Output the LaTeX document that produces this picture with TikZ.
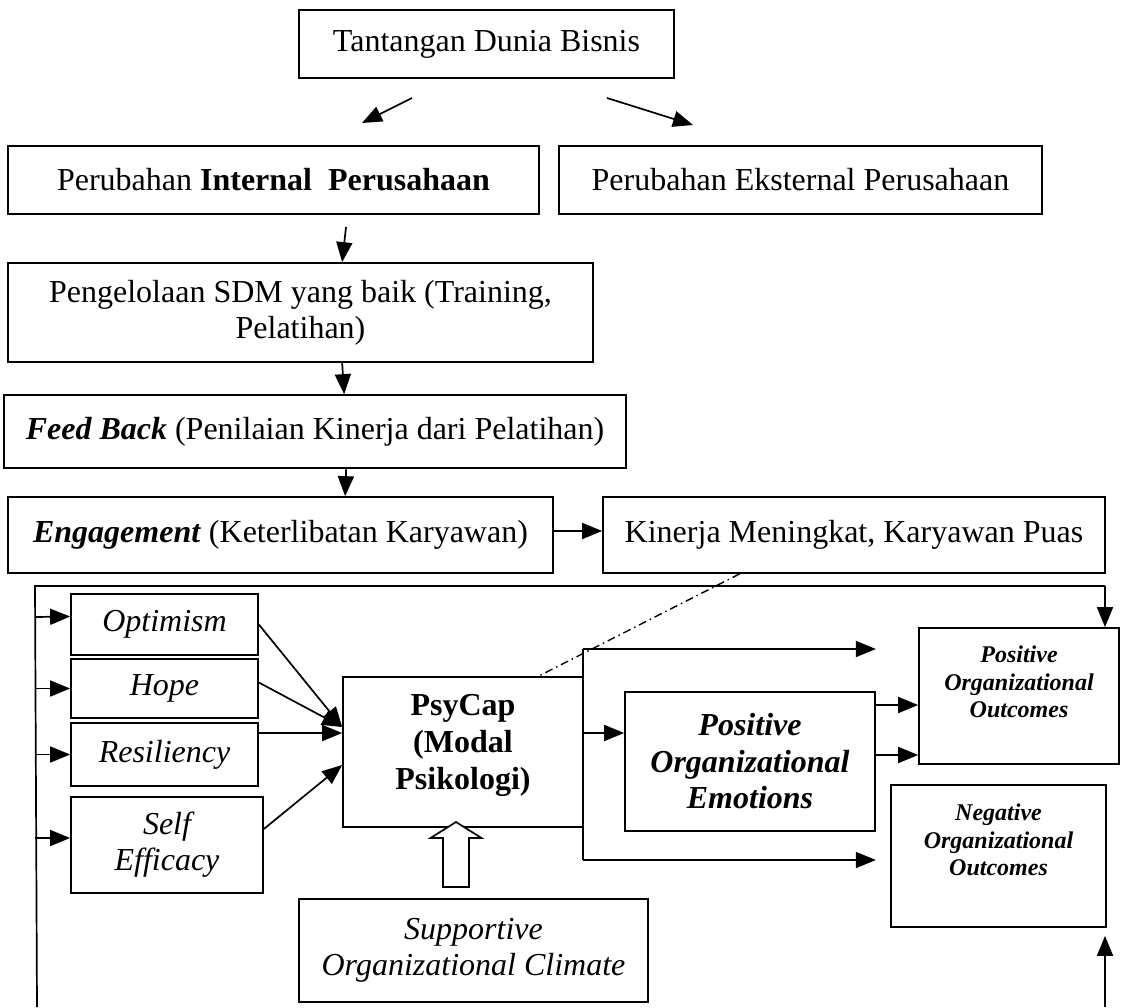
\documentclass[tikz,border=0pt]{standalone}
\usepackage{fontspec}
\setmainfont{Liberation Serif}
\usetikzlibrary{arrows.meta,calc}
\tikzset{
  box/.style={draw, line width=1.7pt, inner sep=0pt, align=center},
  ln/.style={line width=1.7pt},
  arr/.style={line width=1.7pt, -{Triangle[length=20pt,width=16pt]}},
  big/.style={font=\fontsize{32pt}{36pt}\selectfont},
  bigit/.style={font=\fontsize{32pt}{36pt}\selectfont\itshape},
  bigbf/.style={font=\fontsize{32pt}{37pt}\selectfont\bfseries},
  bigbi/.style={font=\fontsize{32pt}{36.5pt}\selectfont\bfseries\itshape},
  smbi/.style={font=\fontsize{24pt}{27.5pt}\selectfont\bfseries\itshape, align=center, inner sep=0pt},
  dashdot/.style={line width=1.4pt, dash pattern=on 8pt off 4pt on 1.5pt off 4pt}
}
\begin{document}
\begin{tikzpicture}[x=1pt,y=-1pt]
\useasboundingbox (0,0) rectangle (1126,1007);

% top part
\node[box,big,minimum width=375pt,minimum height=68pt] (tant) at (486.5,44) {Tantangan Dunia Bisnis};
\node[box,big,minimum width=531pt,minimum height=68pt] (int) at (273.5,180) {Perubahan \textbf{Internal\ \ Perusahaan}};
\node[box,big,minimum width=483pt,minimum height=68pt] (eks) at (800.5,180) {Perubahan Eksternal Perusahaan};
\node[box,big,minimum width=585pt,minimum height=99pt] (sdm) at (300.5,312.5) {Pengelolaan SDM yang baik (Training,\\Pelatihan)};
\node[box,big,minimum width=622pt,minimum height=73pt] (fb) at (315,431.5) {\textbf{\textit{Feed Back}} (Penilaian Kinerja dari Pelatihan)};
\node[box,big,minimum width=545pt,minimum height=76pt] (eng) at (280.5,535) {\textbf{\textit{Engagement}} (Keterlibatan Karyawan)};
\node[box,big,minimum width=502pt,minimum height=76pt] (kin) at (854,535) {Kinerja Meningkat, Karyawan Puas};

\coordinate (a1) at (412,98);
\coordinate (a2) at (362,123);
\coordinate (b1) at (607,98);
\coordinate (b2) at (693,125);
\draw[arr] (a1) -- (a2);
\draw[arr] (b1) -- (b2);
\coordinate (s1) at (346,227);
\draw[arr] (s1) -- ($(sdm.north west)+(335,0)$);
\draw[arr] ($(sdm.south west)+(335,0)$) -- ($(fb.north west)+(341,0)$);
\draw[arr] ($(fb.south west)+(343,0)$) -- ($(eng.north west)+(338,0)$);
\draw[arr] ([yshift=4pt]eng.east) -- ([yshift=4pt]kin.west);

% lower part boxes
\node[box,bigit,minimum width=187pt,minimum height=61pt] (opt) at (164.5,624.5) {Optimism};
\node[box,bigit,minimum width=187pt,minimum height=59pt] (hope) at (164.5,688.5) {Hope};
\node[box,bigit,minimum width=187pt,minimum height=63pt] (res) at (164.5,754.5) {Resiliency};
\node[box,bigit,minimum width=192pt,minimum height=96pt] (se) at (167,845) {Self\\Efficacy};
\node[box,minimum width=240pt,minimum height=150pt] (psy) at (463,752) {};
\node[bigbf,align=center,inner sep=0pt] (psyT) at (463,745) {PsyCap\\(Modal\\Psikologi)};
\node[box,bigbi,minimum width=250pt,minimum height=139pt] (emo) at (750,761.5) {Positive\\Organizational\\Emotions};
\node[box,minimum width=200pt,minimum height=136pt] (posout) at (1019,696) {};
\node[smbi] (posoutT) at (1019,682) {Positive\\Organizational\\Outcomes};
\node[box,minimum width=215pt,minimum height=142pt] (neg) at (998.5,856) {};
\node[smbi] (negT) at (998.5,840) {Negative\\Organizational\\Outcomes};
\node[box,bigit,minimum width=349pt,minimum height=103pt] (sup) at (473.5,950.5) {Supportive\\Organizational Climate};

% feedback frame
\coordinate (tl) at (35,586);
\coordinate (tr) at (1105,586);
\coordinate (bl) at (37,1007);
\coordinate (br) at (1105,1007);
\draw[ln] (bl) -- (tl) -- (tr);
\draw[arr] (tr) -- (tr |- posout.north);
\draw[arr] (br) -- ($(br |- neg.south)+(0,8)$);

\draw[arr] (tl |- 0,617) -- ([yshift=8pt]opt.west);
\draw[arr] (tl |- hope.west) -- (hope.west);
\draw[arr] (tl |- res.west) -- (res.west);
\draw[arr] (tl |- 0,838) -- ([yshift=7pt]se.west);

% into PsyCap
\coordinate (p1) at ([yshift=25pt]psy.west);
\coordinate (p2) at ([yshift=19pt]psy.west);
\coordinate (p3) at ([yshift=-13pt]psy.west);
\draw[arr] (opt.east) -- (p1);
\draw[arr] ([yshift=6pt]hope.east) -- (p1);
\draw[arr] (p2 -| res.east) -- (p2);
\draw[arr] ([yshift=16pt]se.east) -- (p3);

% out of PsyCap
\coordinate (bt) at (583,649);
\coordinate (bm) at (583,733);
\coordinate (bb) at (583,860);
\draw[ln] (bt) -- (bb);
\draw[arr] (bt) -- (bt -| emo.east);
\draw[arr] (bm) -- (bm -| emo.west);
\draw[arr] (bb) -- (bb -| emo.east);
\coordinate (e1) at (875,705);
\coordinate (e2) at (875,755);
\draw[arr] (e1) -- (e1 -| posout.west);
\draw[arr] (e2) -- (e2 -| posout.west);

% dash-dot link
\draw[dashdot] ($(kin.south west)!0.273!(kin.south east)$) -- ($(psy.north west)!0.8125!(psy.north east)$);

% hollow arrow from climate to PsyCap
\coordinate (ht) at (456,822);
\draw[ln, fill=white, line join=miter] (ht) -- ++(25.5,16) -- ++(-12.5,0) -- ++(0,49) -- ++(-26,0) -- ++(0,-49) -- ++(-12.5,0) -- cycle;
\end{tikzpicture}
\end{document}
